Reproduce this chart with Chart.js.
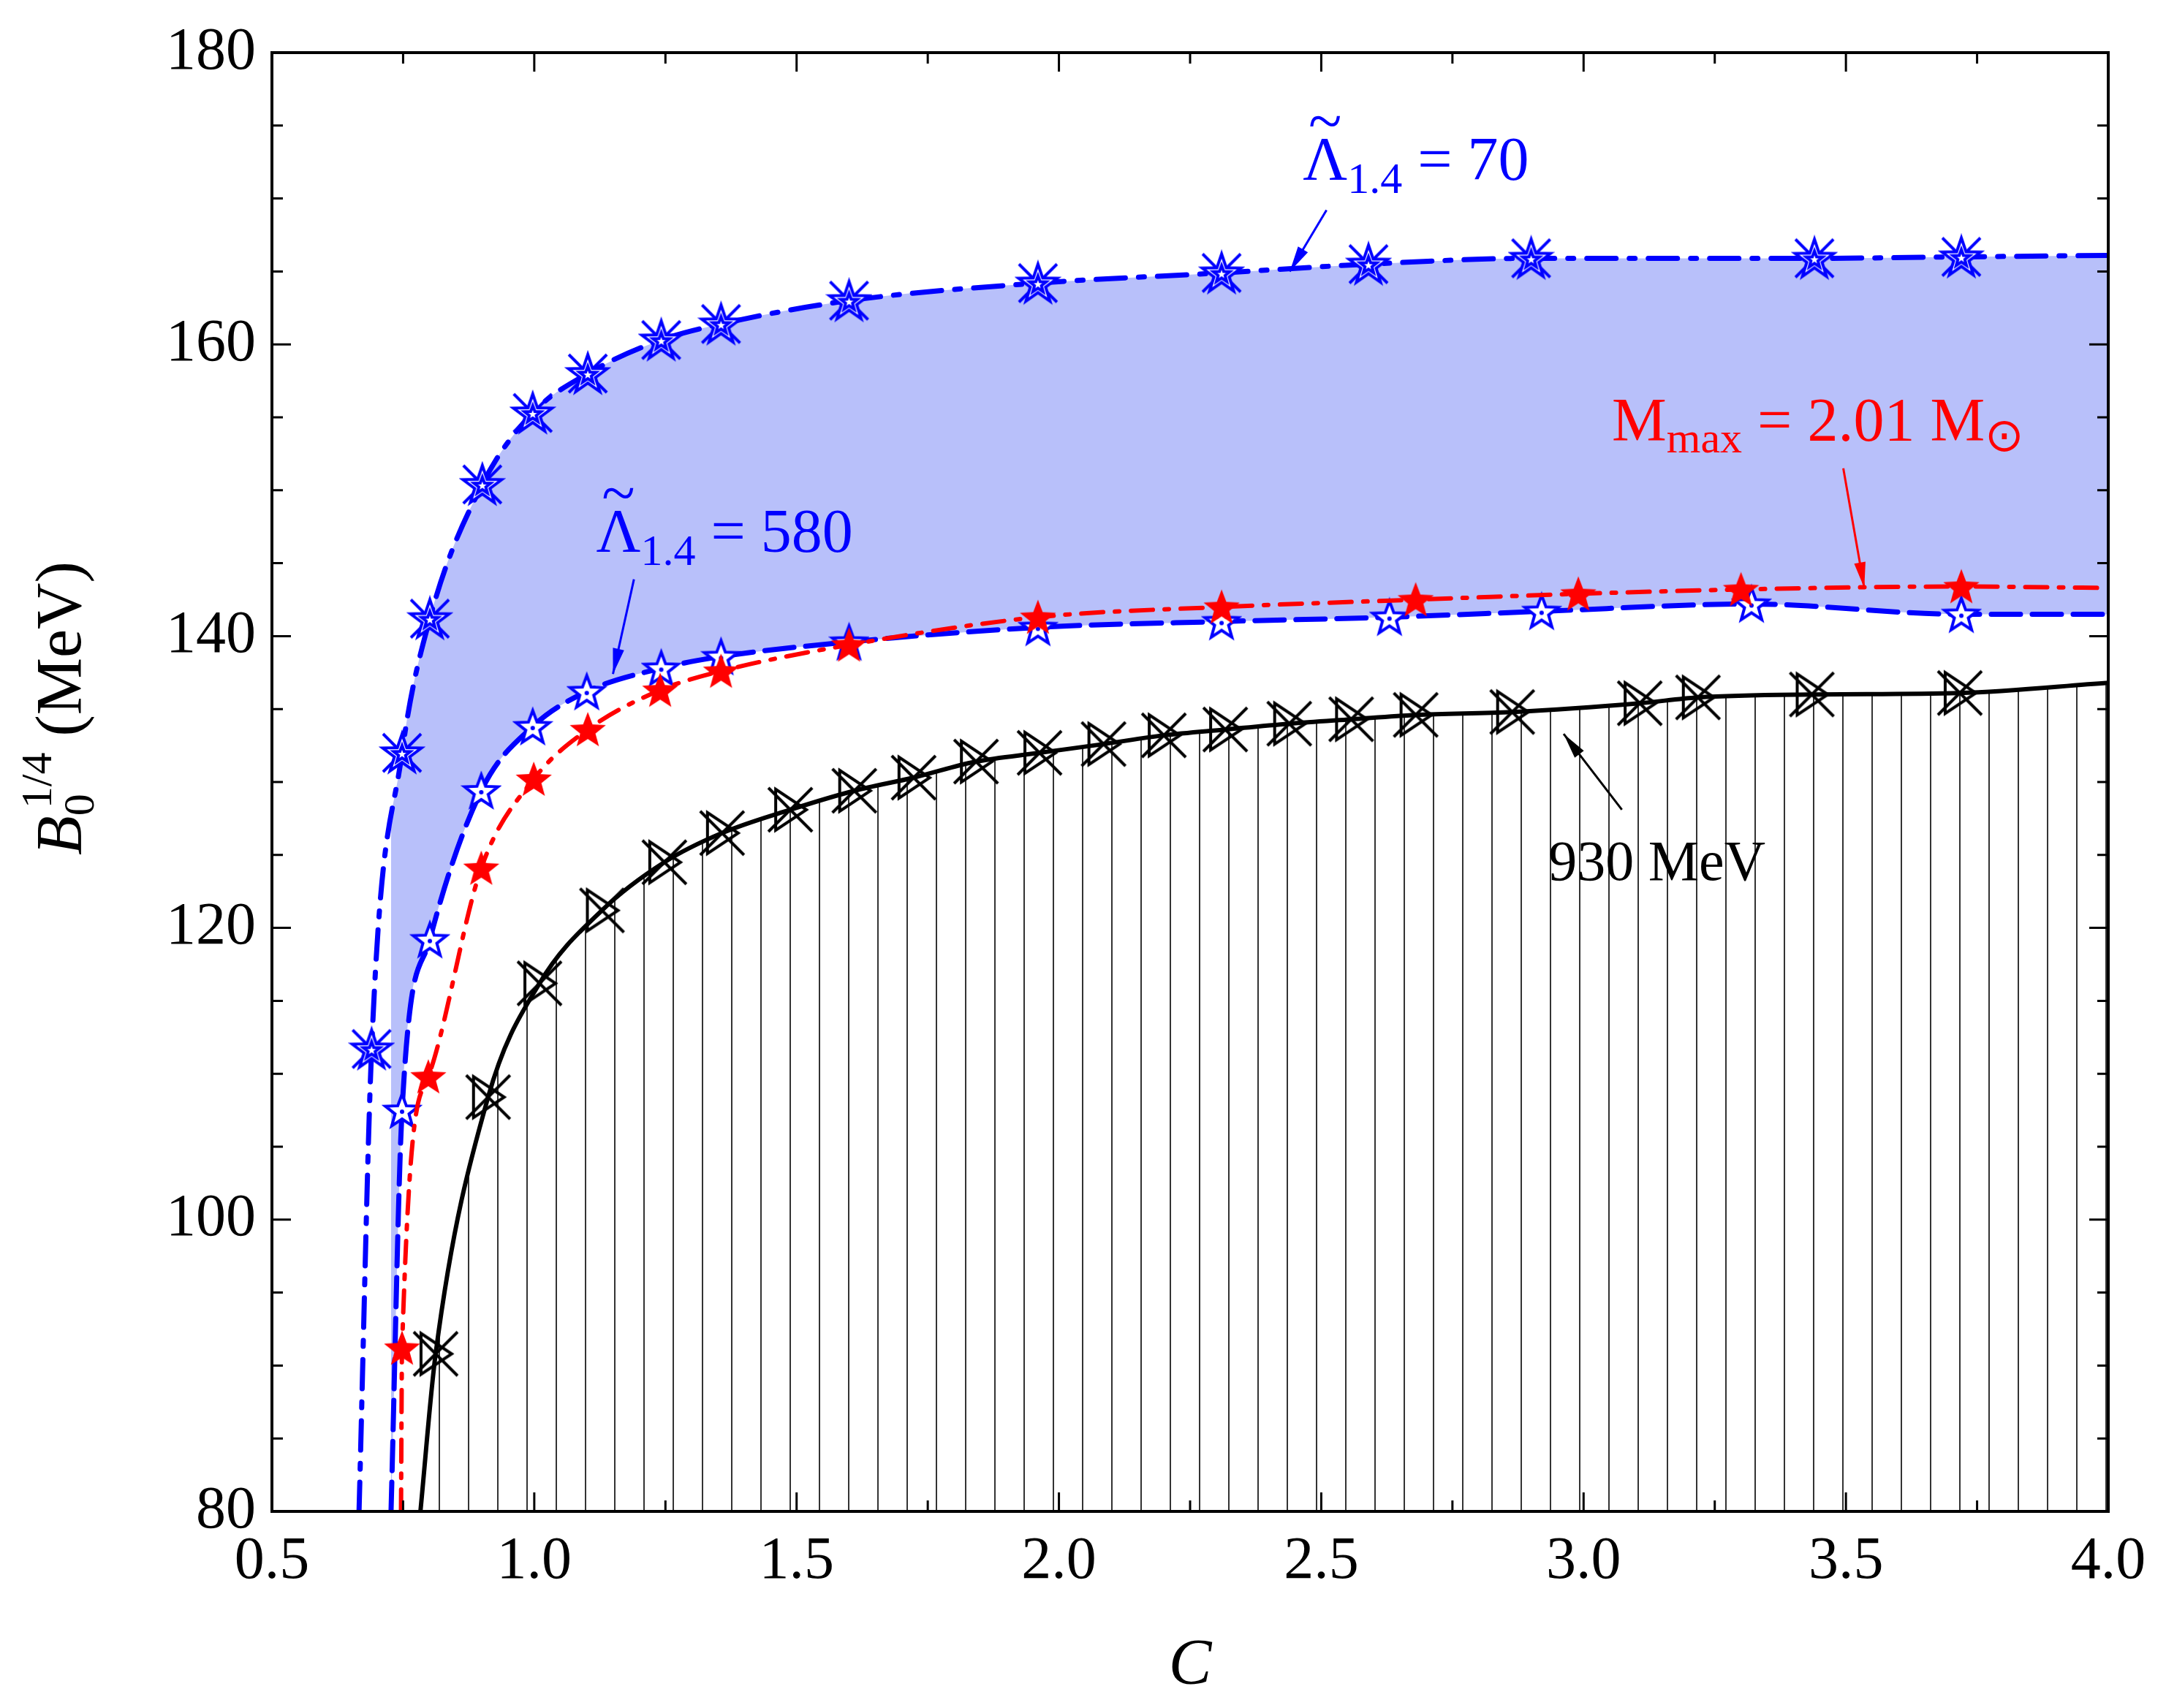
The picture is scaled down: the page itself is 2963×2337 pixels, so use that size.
<!DOCTYPE html>
<html>
<head>
<meta charset="utf-8">
<script src="https://cdn.jsdelivr.net/npm/chart.js@4"></script>
<style>
  body { margin: 0; background: #fff; }
  #wrap { width: 2963px; height: 2337px; }
</style>
</head>
<body>
<div id="wrap"><canvas id="myChart" width="2963" height="2337"></canvas></div>
<script>
// data (C, B0^1/4 in MeV); the first entry is where a curve leaves the bottom axis
var upperC = [0.666, 0.690, 0.748, 0.801, 0.901, 0.997, 1.102, 1.242, 1.356, 1.60, 1.96, 2.31, 2.59, 2.90, 3.44, 3.72, 4.0];
var upperB = [80, 111.7, 132.0, 141.2, 150.4, 155.3, 158.0, 160.3, 161.4, 163.0, 164.2, 164.9, 165.5, 165.9, 165.9, 166.0, 166.1];

var lowerC = [0.727, 0.748, 0.801, 0.899, 0.997, 1.10, 1.242, 1.356, 1.60, 1.96, 2.31, 2.63, 2.92, 3.32, 3.72, 4.0];
var lowerB = [80, 107.5, 119.2, 129.4, 133.8, 136.2, 137.8, 138.6, 139.6, 140.6, 141.0, 141.3, 141.7, 142.2, 141.5, 141.5];

var redC = [0.746, 0.748, 0.798, 0.899, 0.999, 1.102, 1.24, 1.356, 1.60, 1.96, 2.31, 2.68, 2.99, 3.30, 3.72, 4.0];
var redB = [80, 91.2, 109.8, 124.1, 130.2, 133.6, 136.3, 137.6, 139.4, 141.3, 142.0, 142.5, 142.9, 143.2, 143.4, 143.3];

var blackC = [0.783, 0.812, 0.912, 1.01, 1.129, 1.248, 1.358, 1.488, 1.61, 1.723, 1.842, 1.963, 2.085, 2.20, 2.317, 2.439, 2.557, 2.68, 2.864, 3.107, 3.218, 3.435, 3.717, 4.0];
var blackB = [80, 90.8, 108.4, 116.2, 121.2, 124.5, 126.5, 128.1, 129.4, 130.3, 131.4, 132.0, 132.6, 133.2, 133.6, 134.0, 134.3, 134.6, 134.8, 135.4, 135.8, 136.0, 136.1, 136.8];

var xTicks = [0.5, 1.0, 1.5, 2.0, 2.5, 3.0, 3.5, 4.0];
var yTicks = [80, 100, 120, 140, 160, 180];

var BLUE = '#0000ff', RED = '#ff0000', FILLBLUE = '#b8c0fa';
var FONT = '"Times New Roman", "Liberation Serif", Tinos, serif';

function pts(xs, ys) {
  return xs.map(function (x, i) { return { x: x, y: ys[i] }; });
}
// no marker on the end points of each curve
function radii(xs) {
  return xs.map(function (x, i) { return (i === 0 || i === xs.length - 1) ? 0 : 30; });
}

function starPath(g, cx, cy, R, r) {
  g.beginPath();
  for (var i = 0; i < 10; i++) {
    var a = -Math.PI / 2 + i * Math.PI / 5;
    var rr = i % 2 ? r : R;
    g.lineTo(cx + rr * Math.cos(a), cy + rr * Math.sin(a));
  }
  g.closePath();
}
function makeIcon(size, draw) {
  var c = document.createElement('canvas');
  c.width = size; c.height = size;
  draw(c.getContext('2d'), size / 2);
  return c;
}
var iconUpper = makeIcon(64, function (g, m) {
  g.strokeStyle = BLUE; g.lineWidth = 4;
  g.beginPath();
  g.moveTo(m - 26, m - 26); g.lineTo(m + 26, m + 26);
  g.moveTo(m + 26, m - 26); g.lineTo(m - 26, m + 26);
  g.moveTo(m - 26, m - 6); g.lineTo(m + 26, m - 6);
  g.stroke();
  starPath(g, m, m + 2, 28, 11);
  g.fillStyle = '#fff'; g.fill(); g.stroke();
  starPath(g, m, m + 2, 12, 5); g.stroke();
});
var iconLower = makeIcon(56, function (g, m) {
  g.strokeStyle = BLUE; g.lineWidth = 4;
  starPath(g, m, m + 2, 24, 10);
  g.fillStyle = '#fff'; g.fill(); g.stroke();
  g.fillStyle = BLUE; g.beginPath(); g.arc(m, m + 2, 3, 0, 2 * Math.PI); g.fill();
});
var iconRed = makeIcon(56, function (g, m) {
  starPath(g, m, m + 2, 26, 11);
  g.fillStyle = RED; g.fill();
});
var iconBlack = makeIcon(70, function (g, m) {
  g.strokeStyle = '#000'; g.lineWidth = 4;
  g.beginPath();
  g.moveTo(m - 30, m - 30); g.lineTo(m + 30, m + 30);
  g.moveTo(m + 30, m - 30); g.lineTo(m - 30, m + 30);
  g.moveTo(m - 20, m - 28); g.lineTo(m + 22, m); g.lineTo(m - 20, m + 28); g.closePath();
  g.stroke();
});

// vertical hatch under the 930 MeV line
var hatch = (function () {
  var c = document.createElement('canvas');
  c.width = 40; c.height = 10;
  var g = c.getContext('2d');
  g.fillStyle = '#fff'; g.fillRect(0, 0, 40, 10);
  g.fillStyle = '#333'; g.fillRect(0, 0, 2, 10);
  return g.createPattern(c, 'repeat');
})();

// frame ticks, annotations and the y title
var extras = {
  id: 'extras',
  afterDraw: function (chart) {
    var g = chart.ctx, xs = chart.scales.x, ys = chart.scales.y, a = chart.chartArea;
    g.save();
    g.strokeStyle = '#000'; g.lineWidth = 4;
    g.strokeRect(a.left, a.top, a.right - a.left, a.bottom - a.top);
    g.lineWidth = 3;
    for (var v = 0.5; v <= 4.0001; v += 0.25) {
      var px = xs.getPixelForValue(v);
      var major = Math.abs(v * 2 - Math.round(v * 2)) < 1e-6;
      var L = major ? 26 : 15;
      g.beginPath();
      g.moveTo(px, a.bottom); g.lineTo(px, a.bottom - L);
      g.moveTo(px, a.top); g.lineTo(px, a.top + L);
      g.stroke();
    }
    for (var w = 80; w <= 180; w += 5) {
      var py = ys.getPixelForValue(w);
      var L2 = (w % 20 === 0) ? 26 : 15;
      g.beginPath();
      g.moveTo(a.left, py); g.lineTo(a.left + L2, py);
      g.moveTo(a.right, py); g.lineTo(a.right - L2, py);
      g.stroke();
    }

    function P(x, y) { return [xs.getPixelForValue(x), ys.getPixelForValue(y)]; }
    function arrow(x1, y1, x2, y2, col) {
      var p = P(x1, y1), q = P(x2, y2);
      g.strokeStyle = col; g.fillStyle = col; g.lineWidth = 3;
      g.beginPath(); g.moveTo(p[0], p[1]); g.lineTo(q[0], q[1]); g.stroke();
      var ang = Math.atan2(q[1] - p[1], q[0] - p[0]);
      g.beginPath();
      g.moveTo(q[0], q[1]);
      g.lineTo(q[0] - 36 * Math.cos(ang - 0.22), q[1] - 36 * Math.sin(ang - 0.22));
      g.lineTo(q[0] - 36 * Math.cos(ang + 0.22), q[1] - 36 * Math.sin(ang + 0.22));
      g.closePath(); g.fill();
    }
    function label(x, y, parts, col) {
      var p = P(x, y), cx = p[0];
      g.fillStyle = col; g.textBaseline = 'alphabetic'; g.textAlign = 'left';
      parts.forEach(function (t) {
        g.font = (t[2] || '') + ' ' + t[1] + 'px ' + FONT;
        var wd = g.measureText(t[0]).width;
        g.fillText(t[0], cx, p[1] + (t[3] || 0));
        if (t[4]) {
          // tilde over the Lambda
          g.font = t[1] + 'px ' + FONT;
          g.textAlign = 'center';
          g.fillText('~', cx + wd / 2, p[1] - t[1] * 0.62);
          g.textAlign = 'left';
        }
        cx += wd;
      });
    }
    arrow(2.51, 169.2, 2.44, 165.0, BLUE);
    label(2.465, 171.3, [['\u039B', 84, '', 0, true], ['1.4', 60, '', 18], [' = 70', 84]], BLUE);
    arrow(1.19, 143.9, 1.15, 137.4, BLUE);
    label(1.118, 145.8, [['\u039B', 84, '', 0, true], ['1.4', 60, '', 18], [' = 580', 84]], BLUE);
    arrow(3.495, 151.5, 3.535, 143.3, RED);
    label(3.054, 153.4, [['M', 84], ['max', 60, '', 16], [' = 2.01 M', 84], ['\u2299', 64, '', 14]], RED);
    arrow(3.073, 128.1, 2.962, 133.3, '#000');
    label(2.933, 123.3, [['930 MeV', 78]], '#000');

    // y title
    g.translate(110, 1000);
    g.rotate(-Math.PI / 2);
    g.fillStyle = '#000';
    var cx = -170;
    var bits = [['B', 88, 'italic', 0], ['0', 60, '', 18], ['1/4', 60, '', -40], [' (MeV)', 88, '', 0]];
    bits.forEach(function (t, i) {
      g.font = t[2] + ' ' + t[1] + 'px ' + FONT;
      g.fillText(t[0], cx, t[3]);
      if (i !== 1) cx += g.measureText(t[0]).width; else cx += 10;
    });
    g.restore();
  }
};

var ctx = document.getElementById('myChart').getContext('2d');
var myChart = new Chart(ctx, {
  type: 'line',
  data: {
    datasets: [{
      label: 'Lambda 70',
      data: pts(upperC, upperB),
      borderColor: BLUE, borderWidth: 7,
      borderDash: [40, 18, 8, 18], borderCapStyle: 'round',
      backgroundColor: FILLBLUE,
      fill: '+1',
      cubicInterpolationMode: 'monotone',
      pointStyle: iconUpper, pointRadius: radii(upperC),
      order: 3
    }, {
      label: 'Lambda 580',
      data: pts(lowerC, lowerB),
      borderColor: BLUE, borderWidth: 7,
      borderDash: [40, 16], borderCapStyle: 'round',
      fill: false,
      cubicInterpolationMode: 'monotone',
      pointStyle: iconLower, pointRadius: radii(lowerC),
      order: 2
    }, {
      label: 'Mmax',
      data: pts(redC, redB),
      borderColor: RED, borderWidth: 6,
      borderDash: [30, 16, 6, 16], borderCapStyle: 'round',
      fill: false,
      cubicInterpolationMode: 'monotone',
      pointStyle: iconRed, pointRadius: radii(redC),
      order: 1
    }, {
      label: '930 MeV',
      data: pts(blackC, blackB),
      borderColor: '#000', borderWidth: 6,
      backgroundColor: hatch,
      fill: 'start',
      cubicInterpolationMode: 'monotone',
      pointStyle: iconBlack, pointRadius: radii(blackC),
      order: 4
    }]
  },
  options: {
    responsive: false,
    animation: false,
    devicePixelRatio: 1,
    layout: { padding: { top: 72, right: 79, left: 0, bottom: 0 } },
    plugins: { legend: { display: false }, tooltip: { enabled: false } },
    scales: {
      x: {
        type: 'linear', min: 0.5, max: 4.0,
        afterBuildTicks: function (s) { s.ticks = xTicks.map(function (v) { return { value: v }; }); },
        afterFit: function (s) { s.height = 269; },
        grid: { display: false },
        border: { display: false },
        ticks: {
          color: '#000', padding: 12,
          font: { family: FONT, size: 82 },
          callback: function (v) { return v.toFixed(1); }
        },
        title: { display: true, text: 'C', color: '#000', padding: { top: 0 },
          font: { family: FONT, size: 88, style: 'italic' } }
      },
      y: {
        type: 'linear', min: 80, max: 180,
        afterBuildTicks: function (s) { s.ticks = yTicks.map(function (v) { return { value: v }; }); },
        afterFit: function (s) { s.width = 372; },
        grid: { display: false },
        border: { display: false },
        ticks: { color: '#000', padding: 14, font: { family: FONT, size: 82 } }
      }
    }
  },
  plugins: [extras]
});
</script>
</body>
</html>
